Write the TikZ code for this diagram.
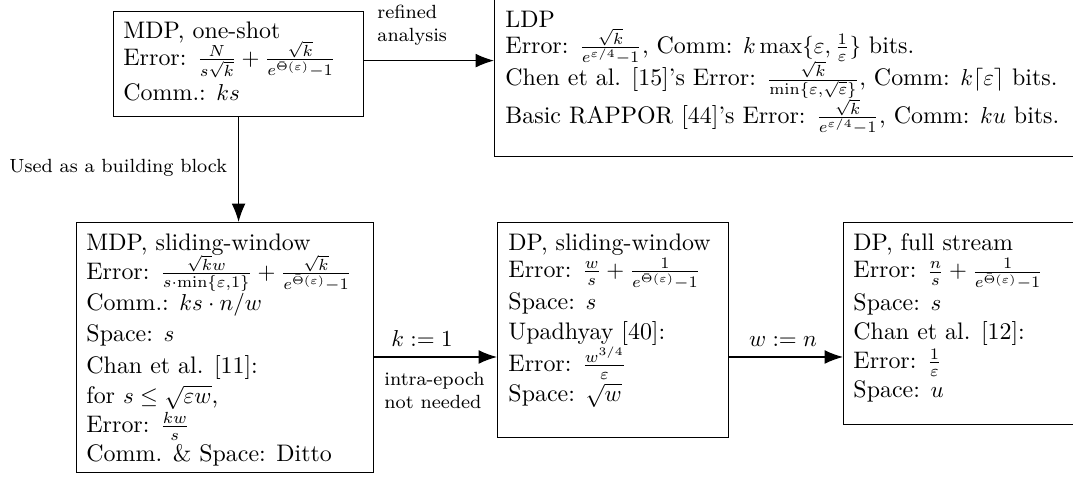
\documentclass[tikz,border=0pt]{standalone}
\usepackage{amsmath,amssymb}
\usetikzlibrary{arrows.meta,calc}
\begin{document}
\begin{tikzpicture}[x=0.4348pt,y=-0.4348pt,
  box/.style={draw, line width=0.5pt, anchor=north west, inner sep=0pt},
  txt/.style={anchor=north west, inner sep=0pt, align=left,
    font={\fontsize{10.4}{0}\selectfont\lineskiplimit=-\maxdimen\lineskip=0pt}},
  lbl/.style={font={\fontsize{8.3}{10}\selectfont}, align=left, inner sep=0pt},
  mlbl/.style={font={\fontsize{10.4}{12.5}\selectfont}, inner sep=0pt},
  arr/.style={-{Latex[length=8pt,width=6pt]}, line width=0.5pt}]
\useasboundingbox (0,0) rectangle (1073,477);
% boxes
\node[box, minimum width=108.7pt, minimum height=45.65pt] (oneshot) at (113,11) {};
\node[box, minimum width=259.1pt, minimum height=69.6pt] (ldp) at (494,-4) {};
\node[box, minimum width=129.1pt, minimum height=108.7pt] (mdpsw) at (76,222) {};
\node[box, minimum width=100.4pt, minimum height=93.5pt] (dpsw) at (497,222) {};
\node[box, minimum width=107.4pt, minimum height=87.8pt] (dpfs) at (843,222) {};
% texts
\node[txt] (toneshot) at (123,21) {MDP, one-shot\\[12pt]
Error: $\frac{N}{s\sqrt{k}}+\frac{\sqrt{k}}{e^{\bar{\Theta}(\varepsilon)}-1}$\\[15pt]
Comm.: $ks$};
\node[txt] (tldp) at (505,11) {LDP\\[11pt]
Error: $\frac{\sqrt{k}}{e^{\varepsilon/4}-1}$, Comm: $k\max\{\varepsilon,\frac{1}{\varepsilon}\}$ bits.\\[14.2pt]
Chen et al. [15]'s Error: $\frac{\sqrt{k}}{\min\{\varepsilon,\sqrt{\varepsilon}\}}$, Comm: $k\lceil\varepsilon\rceil$ bits.\\[16.4pt]
Basic RAPPOR [44]'s Error: $\frac{\sqrt{k}}{e^{\varepsilon/4}-1}$, Comm: $ku$ bits.};
\node[txt] (tmdpsw) at (86,233) {MDP, sliding-window\\[12.8pt]
Error: $\frac{\sqrt{k}w}{s\cdot\min\{\varepsilon,1\}}+\frac{\sqrt{k}}{e^{\bar{\Theta}(\varepsilon)}-1}$\\[13.6pt]
Comm.: $ks\cdot n/w$\\[13.5pt]
Space: $s$\\[13.6pt]
Chan et al. [11]:\\[13.3pt]
for $s\leq\sqrt{\varepsilon w}$,\\[12.6pt]
Error: $\frac{kw}{s}$\\[12.4pt]
Comm. \& Space: Ditto};
\node[txt] (tdpsw) at (508,233) {DP, sliding-window\\[12pt]
Error: $\frac{w}{s}+\frac{1}{e^{\bar{\Theta}(\varepsilon)}-1}$\\[14pt]
Space: $s$\\[13pt]
Upadhyay [40]:\\[13.9pt]
Error: $\frac{w^{3/4}}{\varepsilon}$\\[13pt]
Space: $\sqrt{w}$};
\node[txt] (tdpfs) at (853,233) {DP, full stream\\[12pt]
Error: $\frac{n}{s}+\frac{1}{e^{\bar{\Theta}(\varepsilon)}-1}$\\[14pt]
Space: $s$\\[12.6pt]
Chan et al. [12]:\\[12.8pt]
Error: $\frac{1}{\varepsilon}$\\[12.4pt]
Space: $u$};
% connectors
\coordinate (rowy) at (0,357);
\draw[arr] ([yshift=1.5pt]oneshot.east) -- ([yshift=1.5pt]oneshot.east -| ldp.west);
\draw[arr] (oneshot.south) -- (oneshot.south |- mdpsw.north);
\draw[arr] (mdpsw.east |- rowy) -- (dpsw.west |- rowy);
\draw[arr] (dpsw.east |- rowy) -- (dpfs.west |- rowy);
% labels
\node[lbl, anchor=north west] (lref) at (377,5) {refined\\analysis};
\node[lbl, anchor=west] (lused) at (9,168) {Used as a building block};
\node[mlbl, anchor=base] (lk) at (422,347) {$k:=1$};
\node[lbl, anchor=north west] (lintra) at (384,372) {intra-epoch\\not needed};
\node[mlbl, anchor=base] (lw) at (783,347) {$w:=n$};
\end{tikzpicture}
\end{document}
